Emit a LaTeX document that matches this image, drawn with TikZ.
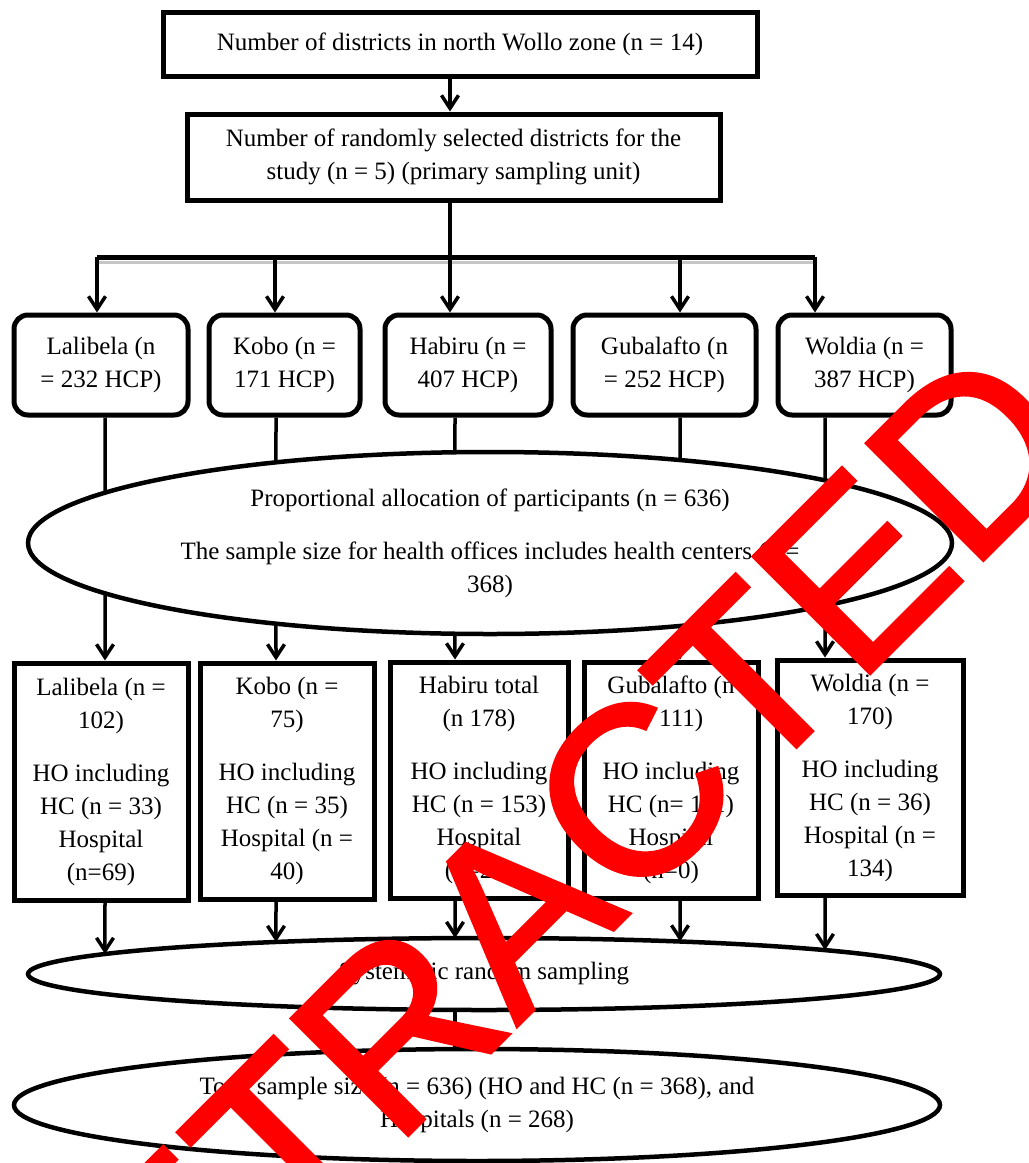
\documentclass[tikz,border=0pt]{standalone}
\usepackage{fontspec}
\setmainfont{Liberation Serif}
\newfontfamily\marcafont[FakeBold=1.5]{Liberation Sans}
\usetikzlibrary{arrows.meta, shapes.geometric, intersections}

\begin{document}
\begin{tikzpicture}[x=1pt, y=-1pt,
        texto/.style={font=\fontsize{25}{33}\selectfont, align=center},
        caja/.style={texto, draw, line width=5pt, inner sep=0pt},
        cajar/.style={texto, draw, line width=5pt, rounded corners=14pt, inner sep=0pt},
        elipse/.style={texto, draw, ellipse, line width=4.5pt, inner sep=0pt},
        linea/.style={line width=3.5pt},
        flecha/.style={line width=3.5pt, -{Straight Barb[length=13pt, width=17pt]}}]
        % Marco de la imagen
        \useasboundingbox (0,0) rectangle (1029,1163);
        % Columnas y barra de reparto
        \coordinate (eje) at (450,257);
        \coordinate (r1) at (97,257);
        \coordinate (r2) at (275,257);
        \coordinate (r4) at (680,257);
        \coordinate (r5) at (815,257);
        \coordinate (s1) at (97,262);
        \coordinate (s5) at (815,262);
        \coordinate (c1) at (105,0);
        \coordinate (c2) at (276,0);
        \coordinate (c3) at (455,0);
        \coordinate (c4) at (680,0);
        \coordinate (c5) at (825,0);
        % Cajas de arriba
        \node[caja, minimum width=594, minimum height=64] (zona) at (460,44) {Number of districts in north Wollo zone (n = 14)};
        \node[caja, minimum width=533, minimum height=86] (distritos) at (453.5,157) {Number of randomly selected districts for the\\ study (n = 5) (primary sampling unit)};
        % Distritos (HCP)
        \node[cajar, minimum width=174, minimum height=100] (lalA) at (101,365) {Lalibela (n\\ = 232 HCP)};
        \node[cajar, minimum width=151, minimum height=100] (koboA) at (284.5,365) {Kobo (n =\\ 171 HCP)};
        \node[cajar, minimum width=166, minimum height=100] (habA) at (468,365) {Habiru (n =\\ 407 HCP)};
        \node[cajar, minimum width=183, minimum height=100] (gubA) at (664.5,365) {Gubalafto (n\\ = 252 HCP)};
        \node[cajar, minimum width=173, minimum height=100] (wolA) at (864.5,365) {Woldia (n =\\ 387 HCP)};
        % Elipse de asignacion
        \node[elipse, minimum width=924, minimum height=182, name path=prop] (prop) at (490,543) {Proportional allocation of participants (n = 636)\\[20pt] The sample size for health offices includes health centers (n =\\ 368)};
        % Distritos (muestra)
        \node[caja, minimum width=174, minimum height=237] (lalB) at (101,781.5) {Lalibela (n =\\ 102)\\[20pt] HO including\\ HC (n = 33)\\ Hospital\\ (n=69)};
        \node[caja, minimum width=174, minimum height=236] (koboB) at (287,781) {Kobo (n =\\ 75)\\[20pt] HO including\\ HC (n = 35)\\ Hospital (n =\\ 40)};
        \node[caja, minimum width=178, minimum height=236] (habB) at (479,780) {Habiru total\\ (n 178)\\[20pt] HO including\\ HC (n = 153)\\ Hospital\\ (n=25)};
        \node[caja, minimum width=174, minimum height=236] (gubB) at (671,780) {Gubalafto (n\\ = 111)\\[20pt] HO including\\ HC (n= 111)\\ Hospital\\ (n=0)};
        \node[caja, minimum width=186, minimum height=235] (wolB) at (870,777.5) {Woldia (n =\\ 170)\\[20pt] HO including\\ HC (n = 36)\\ Hospital (n =\\ 134)};
        % Elipses de abajo
        \node[elipse, minimum width=912, minimum height=72, name path=sis] (sis) at (484,974) {Systematic random sampling};
        \node[elipse, minimum width=926, minimum height=112, name path=tot] (tot) at (477,1105) {Total sample size (n = 636) (HO and HC (n = 368), and\\ Hospitals (n = 268)};
        % Flechas de arriba
        \draw[flecha] (zona.south -| eje) -- (distritos.north -| eje);
        \draw[linea] (distritos.south -| eje) -- (eje);
        \draw[gray!45, line width=3pt] (s1) -- (s5);
        \draw[linea, line width=5pt] (r1) -- (r5);
        \draw[flecha] (r1) -- (lalA.north -| r1);
        \draw[flecha] (r2) -- (koboA.north -| r2);
        \draw[flecha] (eje) -- (habA.north -| eje);
        \draw[flecha] (r4) -- (gubA.north -| r4);
        \draw[flecha] (r5) -- (wolA.north -| r5);
        % Lineas que cruzan la elipse
        \path[name path=v1] (lalA.south -| c1) -- (lalB.north -| c1);
        \path[name path=v2] (koboA.south -| c2) -- (koboB.north -| c2);
        \path[name path=v3] (habA.south -| c3) -- (habB.north -| c3);
        \path[name path=v4] (gubA.south -| c4) -- (gubB.north -| c4);
        \path[name path=v5] (wolA.south -| c5) -- (wolB.north -| c5);
        \path[name intersections={of=v1 and prop, sort by=v1, by={p1,q1}}];
        \path[name intersections={of=v2 and prop, sort by=v2, by={p2,q2}}];
        \path[name intersections={of=v3 and prop, sort by=v3, by={p3,q3}}];
        \path[name intersections={of=v4 and prop, sort by=v4, by={p4,q4}}];
        \path[name intersections={of=v5 and prop, sort by=v5, by={p5,q5}}];
        \draw[linea] (lalA.south -| c1) -- (p1);
        \draw[linea] (koboA.south -| c2) -- (p2);
        \draw[linea] (habA.south -| c3) -- (p3);
        \draw[linea] (gubA.south -| c4) -- (p4);
        \draw[linea] (wolA.south -| c5) -- (p5);
        \draw[flecha] (q1) -- (lalB.north -| c1);
        \draw[flecha] (q2) -- (koboB.north -| c2);
        \draw[flecha] (q3) -- (habB.north -| c3);
        \draw[flecha] (q4) -- (gubB.north -| c4);
        \draw[flecha] (q5) -- (wolB.north -| c5);
        % Flechas hacia el muestreo
        \path[name path=w1] (lalB.south -| c1) -- (sis.center -| c1);
        \path[name path=w2] (koboB.south -| c2) -- (sis.center -| c2);
        \path[name path=w3] (habB.south -| c3) -- (sis.center -| c3);
        \path[name path=w4] (gubB.south -| c4) -- (sis.center -| c4);
        \path[name path=w5] (wolB.south -| c5) -- (sis.center -| c5);
        \path[name intersections={of=w1 and sis, by=t1}];
        \path[name intersections={of=w2 and sis, by=t2}];
        \path[name intersections={of=w3 and sis, by=t3}];
        \path[name intersections={of=w4 and sis, by=t4}];
        \path[name intersections={of=w5 and sis, by=t5}];
        \draw[flecha] (lalB.south -| c1) -- (t1);
        \draw[flecha] (koboB.south -| c2) -- (t2);
        \draw[flecha] (habB.south -| c3) -- (t3);
        \draw[flecha] (gubB.south -| c4) -- (t4);
        \draw[flecha] (wolB.south -| c5) -- (t5);
        \draw[linea] (sis.south -| c3) -- (tot.north -| c3);
        % Sello rojo
        \node[rotate=45, anchor=south east, inner sep=0pt, text=red, font=\marcafont\fontsize{240}{240}\selectfont] (marca) at (1094,453) {RETRACTED};
\end{tikzpicture}
\end{document}
